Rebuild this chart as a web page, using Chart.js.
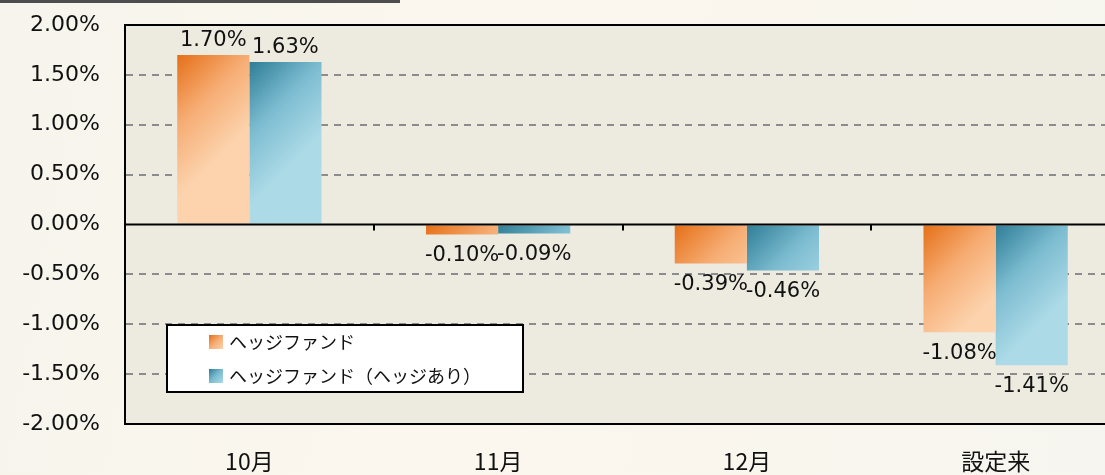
<!DOCTYPE html>
<html>
<head>
<meta charset="utf-8">
<script src="https://cdn.jsdelivr.net/npm/chart.js@4"></script>
<style>
  html, body { margin: 0; padding: 0; overflow: hidden; width: 1105px; height: 475px; }
  body { background: linear-gradient(100deg, #f6f4ec 0%, #fbf7ee 40%, #f9f6ee 75%, #f6f5ef 100%); position: relative; }
  #topline { position: absolute; left: 0; top: 0; width: 400px; height: 3px; background: #4d4d4d; }
  #wrap { position: absolute; left: 0; top: 0; }
</style>
</head>
<body>
<div id="topline"></div>
<div id="wrap"><canvas id="barChart" width="1120" height="475"></canvas></div>
<script>
// chart values
const categories = ['10月', '11月', '12月', '設定来'];
const seriesNames = ['ヘッジファンド', 'ヘッジファンド（ヘッジあり）'];
const fundValues = [1.70, -0.10, -0.39, -1.08];
const hedgedValues = [1.63, -0.09, -0.46, -1.41];
const yTicks = [2.0, 1.5, 1.0, 0.5, 0.0, -0.5, -1.0, -1.5, -2.0];

const orangeStops = ['#e56f17', '#f6ad74', '#fcd3ad'];
const blueStops = ['#2e7d96', '#7cbcd0', '#acdae7'];
const catPct = 0.58;

function fmt(v) { return v.toFixed(2) + '%'; }

function makeGrad(c, left, top, size, stops) {
  const g = c.createLinearGradient(left, top, left + size, top + size);
  g.addColorStop(0, stops[0]);
  g.addColorStop(0.5, stops[1]);
  g.addColorStop(1, stops[2]);
  return g;
}

// per-bar diagonal gradient, dark corner top-left
function barFill(stops) {
  return function (ctx) {
    const chart = ctx.chart;
    if (!chart.chartArea || ctx.type !== 'data') return stops[1];
    const x = chart.scales.x, y = chart.scales.y;
    const catW = (x.right - x.left) / categories.length;
    const barW = catW * catPct / 2;
    const left = x.getPixelForValue(ctx.dataIndex) - barW + ctx.datasetIndex * barW;
    const top = y.getPixelForValue(Math.max(ctx.raw, 0));
    return makeGrad(chart.ctx, left, top, barW, stops);
  };
}

const plotBg = {
  id: 'plotBg',
  beforeDraw(chart) {
    const {ctx, chartArea: a} = chart;
    ctx.save();
    ctx.fillStyle = '#edeae0';
    ctx.fillRect(a.left, a.top, a.right - a.left, a.bottom - a.top);
    ctx.restore();
  }
};

const extras = {
  id: 'extras',
  afterDatasetsDraw(chart) {
    const {ctx, chartArea: a} = chart;
    const x = chart.scales.x, y = chart.scales.y;
    const y0 = y.getPixelForValue(0);
    ctx.save();
    // zero line + category tick marks
    ctx.strokeStyle = '#000';
    ctx.lineWidth = 2;
    ctx.beginPath();
    ctx.moveTo(a.left, y0); ctx.lineTo(a.right, y0);
    for (let i = 0; i < categories.length - 1; i++) {
      const bx = Math.round((x.getPixelForValue(i) + x.getPixelForValue(i + 1)) / 2);
      ctx.moveTo(bx, y0); ctx.lineTo(bx, y0 + 6);
    }
    ctx.stroke();
    // top border
    ctx.beginPath();
    ctx.moveTo(a.left - 1, a.top); ctx.lineTo(a.right, a.top);
    ctx.stroke();

    // value labels
    ctx.fillStyle = '#111';
    ctx.font = '21px "DejaVu Sans"';
    ctx.textAlign = 'center';
    ctx.textBaseline = 'middle';
    chart.data.datasets.forEach((ds, di) => {
      const meta = chart.getDatasetMeta(di);
      meta.data.forEach((bar, i) => {
        const v = ds.data[i];
        const ly = v >= 0 ? bar.y - 14 : bar.y + 21;
        ctx.fillText(fmt(v), bar.x, ly);
      });
    });

    // legend box
    const lx = a.left + 42, ly = a.top + 300, lw = 356, lh = 67;
    ctx.fillStyle = '#ffffff';
    ctx.fillRect(lx, ly, lw, lh);
    ctx.strokeStyle = '#000';
    ctx.lineWidth = 2;
    ctx.strokeRect(lx, ly, lw, lh);
    const stopsList = [orangeStops, blueStops];
    ctx.font = '18px "Noto Sans CJK JP"';
    ctx.textAlign = 'left';
    seriesNames.forEach((name, i) => {
      const cy = ly + 17 + i * 34;
      ctx.fillStyle = makeGrad(ctx, lx + 42, cy - 7, 14, stopsList[i]);
      ctx.fillRect(lx + 42, cy - 7, 14, 14);
      ctx.fillStyle = '#111';
      ctx.fillText(name, lx + 62, cy);
    });
    ctx.restore();
  }
};

const ctx = document.getElementById('barChart');

new Chart(ctx, {
  type: 'bar',
  data: {
    labels: categories,
    datasets: [
      { label: seriesNames[0], data: fundValues, backgroundColor: barFill(orangeStops), borderWidth: 0 },
      { label: seriesNames[1], data: hedgedValues, backgroundColor: barFill(blueStops), borderWidth: 0 }
    ]
  },
  options: {
    responsive: false,
    animation: false,
    devicePixelRatio: 1,
    layout: { padding: { top: 25, right: 0, left: 0, bottom: 0 } },
    datasets: { bar: { categoryPercentage: catPct, barPercentage: 1 } },
    plugins: { legend: { display: false }, tooltip: { enabled: false } },
    scales: {
      x: {
        grid: { display: false },
        border: { display: true, color: '#000', width: 2 },
        ticks: { color: '#111', font: { family: '"Noto Sans CJK JP"', size: 23 }, padding: 15 },
        afterFit(s) { s.height = 51; s.paddingLeft = 0; s.paddingRight = 0; }
      },
      y: {
        min: -2, max: 2,
        afterBuildTicks(s) { s.ticks = yTicks.map(v => ({ value: v })); },
        afterFit(s) { s.width = 125; s.paddingTop = 0; s.paddingBottom = 0; },
        grid: {
          drawTicks: false,
          lineWidth: 2,
          color: c => (c.tick && Math.abs(c.tick.value) < 1e-9) || (c.tick && Math.abs(c.tick.value) === 2) ? 'rgba(0,0,0,0)' : '#8c8c8c'
        },
        border: {
          display: true, color: '#000', width: 2,
          dash: c => [7, 6]
        },
        ticks: {
          color: '#111',
          font: { family: '"DejaVu Sans"', size: 22 },
          padding: 25,
          callback: v => fmt(v)
        }
      }
    }
  },
  plugins: [plotBg, extras]
});
</script>
</body>
</html>
